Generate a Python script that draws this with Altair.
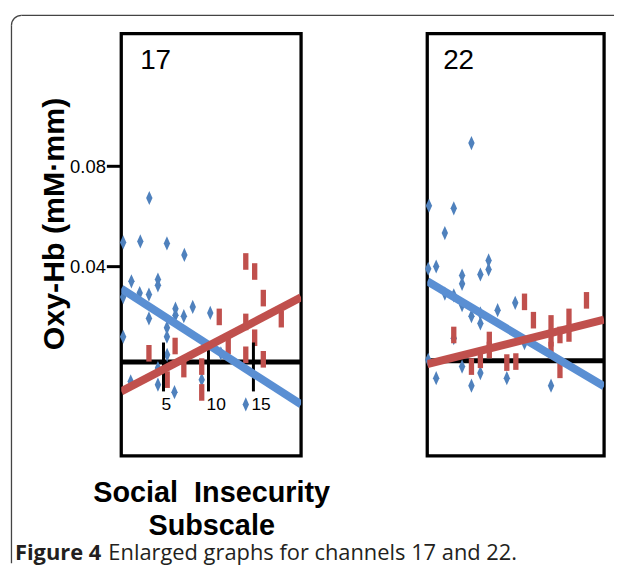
import altair as alt
import pandas as pd

# ---------------- data ----------------
channels = ["17", "22"]

ch17_blue_x = [3.42, 0.51, 2.42, 5.38, 7.32, 1.43, 4.38, 4.38, 0.51, 2.35, 3.38, 6.33, 6.33, 8.25,
               7.26, 3.38, 5.38, 5.38, 10.2, 0.51, 11.38, 4.38, 1.35, 4.38, 6.22, 9.25, 14.15, 5.4]
ch17_blue_y = [0.0673, 0.0496, 0.0500, 0.0492, 0.0446, 0.0341, 0.0348, 0.0325, 0.0278, 0.0294,
               0.0288, 0.0232, 0.0206, 0.0239, 0.0202, 0.0193, 0.0156, 0.0120, 0.0215, 0.0120,
               0.0054, -0.0005, -0.0058, -0.0071, -0.0101, -0.0051, -0.0150, 0.0048]
ch17_red_x = [14.15, 15.14, 16.1, 18.1, 11.2, 14.15, 15.14, 12.2, 14.15, 16.1, 6.29, 3.38,
              7.26, 9.25, 9.25, 5.41]
ch17_red_y = [0.0420, 0.0380, 0.0274, 0.0190, 0.0199, 0.0179, 0.0116, 0.0083, 0.0048, 0.0030,
              0.0083, 0.0054, -0.0009, 0.0001, -0.0102, -0.0051]

ch22_blue_x = [5.30, 0.49, 3.30, 2.29, 0.41, 1.31, 4.24, 4.24, 6.31, 7.24, 7.24, 2.29, 3.30, 4.24,
               5.30, 6.31, 6.31, 8.26, 10.25, 3.30, 11.30, 4.24, 1.31, 5.30, 6.31, 9.30, 14.30, 0.41]
ch22_blue_y = [0.0892, 0.0642, 0.0632, 0.0533, 0.0391, 0.0400, 0.0364, 0.0331, 0.0368, 0.0424,
               0.0388, 0.0292, 0.0285, 0.0246, 0.0202, 0.0213, 0.0173, 0.0226, 0.0255, 0.0114,
               0.0094, 0.0001, -0.0045, -0.0075, -0.0025, -0.0045, -0.0075, 0.0028]
ch22_red_x = [11.30, 12.31, 18.31, 14.30, 14.30, 14.30, 16.33, 16.33, 15.31, 3.30, 7.32, 7.32,
              5.30, 6.31, 9.30, 10.32, 15.31]
ch22_red_y = [0.0259, 0.0186, 0.0265, 0.0173, 0.0114, 0.0067, 0.0199, 0.0133, 0.0127, 0.0127,
              0.0107, 0.0067, 0.0001, 0.0028, 0.0017, 0.0021, -0.0012]

fit_x = [0.3, 20.3]
ch17_fit_blue = [0.0312, -0.0150]
ch17_fit_red = [-0.0098, 0.0277]
ch22_fit_blue = [0.0341, -0.0078]
ch22_fit_red = [0.0011, 0.0188]

zero_level = {"17": 0.0019, "22": 0.0024}

x_tick_values = [5, 10, 15]
x_tick_span = [-0.0098, 0.0097]
x_tick_label_y = -0.0152

y_tick_values = [0.04, 0.08]
x_domain = [0.3, 20.3]
y_domain = [-0.0355, 0.1328]

y_title = "Oxy-Hb (mM\u00b7mm)"
x_title = ["Social\u00a0\u00a0Insecurity", "Subscale"]
caption_bold = "Figure 4"
caption_rest = "Enlarged graphs for channels 17 and 22."

# ---------------- styling ----------------
BLUE = "#4F81BD"
BLUE_LINE = "#5A8FD3"
RED = "#C0504D"
DIAMOND = "M0,-1L0.45,0L0,1L-0.45,0Z"
RECT = "M-0.32,-1L0.32,-1L0.32,1L-0.32,1Z"
FRAME = "#444444"
SANS = "Liberation Sans"

xscale = alt.Scale(domain=x_domain, nice=False, zero=False)
yscale = alt.Scale(domain=y_domain, nice=False, zero=False)


def panel(ch, bx, by, rx, ry, fb, fr, width, first):
    if first:
        xaxis = alt.Axis(labels=False, ticks=False, domain=False, grid=False, title=x_title,
                         titleFont=SANS, titleFontSize=29,
                         titleFontWeight="bold", titleColor="black", titleBaseline="alphabetic",
                         titleY=46, titleLineHeight=33)
        yaxis = alt.Axis(values=y_tick_values, format=".2f", title=y_title,
                         titleFont=SANS, titleFontSize=30.5,
                         titleFontWeight="bold", titleColor="black", titleAngle=270,
                         titleAlign="center", titleBaseline="alphabetic", titleX=-58, titleY=191,
                         labelFont=SANS, labelFontSize=18.5, labelColor="black",
                         labelPadding=1, tickSize=15, tickWidth=3, tickColor="black",
                         domain=False, grid=False)
    else:
        xaxis = None
        yaxis = None

    X = lambda f: alt.X(f, scale=xscale, axis=xaxis)
    Y = lambda f: alt.Y(f, scale=yscale, axis=yaxis)

    blue = pd.DataFrame({"x": bx, "y": by})
    red = pd.DataFrame({"x": rx, "y": ry})
    fits = pd.DataFrame({"x": fit_x + fit_x, "y": fb + fr,
                         "s": ["blue", "blue", "red", "red"]})

    zero = alt.Chart(pd.DataFrame({"y": [zero_level[ch]]})).mark_rule(
        color="black", strokeWidth=5).encode(y=Y("y:Q"))
    pts_b = alt.Chart(blue).mark_point(shape=DIAMOND, filled=True, size=204, color=BLUE,
                                       opacity=1, strokeWidth=0).encode(x=X("x:Q"), y=Y("y:Q"))
    pts_r = alt.Chart(red).mark_point(shape=RECT, filled=True, size=279, color=RED,
                                      opacity=1, strokeWidth=0).encode(x=X("x:Q"), y=Y("y:Q"))
    line_b = alt.Chart(fits[fits.s == "blue"]).mark_line(
        color=BLUE_LINE, strokeWidth=8, clip=True).encode(x=X("x:Q"), y=Y("y:Q"))
    line_r = alt.Chart(fits[fits.s == "red"]).mark_line(
        color=RED, strokeWidth=8, clip=True).encode(x=X("x:Q"), y=Y("y:Q"))
    label = alt.Chart(pd.DataFrame({"t": [ch]})).mark_text(
        font=SANS, fontSize=28, align="left", baseline="alphabetic",
        color="black").encode(x=alt.value(19 if first else 16), y=alt.value(36),
                              text="t:N")

    layers = [zero, pts_b, pts_r]
    if first:
        tdf = pd.DataFrame({"x": x_tick_values, "lo": x_tick_span[0], "hi": x_tick_span[1],
                            "ly": x_tick_label_y, "t": [str(v) for v in x_tick_values]})
        ticks = alt.Chart(tdf).mark_rule(color="black", strokeWidth=3).encode(
            x=X("x:Q"), y=Y("lo:Q"), y2="hi:Q")
        tlabels = alt.Chart(tdf).mark_text(
            font=SANS, fontSize=17.5, align="left", baseline="middle", dx=-2,
            color="black").encode(x=X("x:Q"), y=Y("ly:Q"), text="t:N")
        layers += [ticks, tlabels]
    layers += [line_b, line_r, label]

    if first:
        deco = pd.DataFrame({"a": [0]})
        top_rule = alt.Chart(deco).mark_rule(color=FRAME, strokeWidth=1.3).encode(
            x=alt.value(-100.5), x2=alt.value(496), y=alt.value(-18.4))
        left_rule = alt.Chart(deco).mark_rule(color=FRAME, strokeWidth=1.3).encode(
            x=alt.value(-110.5), y=alt.value(-8.4), y2=alt.value(533))
        corner = alt.Chart(deco).mark_arc(theta=4.7124, theta2=6.2832, radius=10.65,
                                          radius2=9.35, color=FRAME).encode(
            x=alt.value(-100.5), y=alt.value(-8.4))
        cap1 = alt.Chart(pd.DataFrame({"t": [caption_bold]})).mark_text(
            font="Open Sans", fontSize=22, fontWeight="bold", align="left",
            baseline="alphabetic", color="#231F20").encode(
            x=alt.value(-107), y=alt.value(529.5), text="t:N")
        cap2 = alt.Chart(pd.DataFrame({"t": [caption_rest]})).mark_text(
            font="Open Sans", fontSize=22, align="left", baseline="alphabetic",
            color="#231F20").encode(x=alt.value(-13), y=alt.value(529.5), text="t:N")
        layers += [top_rule, left_rule, corner, cap1, cap2]

    return alt.layer(*layers).properties(width=width, height=425)


p1 = panel("17", ch17_blue_x, ch17_blue_y, ch17_red_x, ch17_red_y,
           ch17_fit_blue, ch17_fit_red, 181, True)
p2 = panel("22", ch22_blue_x, ch22_blue_y, ch22_red_x, ch22_red_y,
           ch22_fit_blue, ch22_fit_red, 178, False)

chart = alt.hconcat(p1, p2, spacing=127, bounds="flush").configure_view(
    stroke="black", strokeWidth=3.3).properties(
    padding={"left": 1, "top": 3, "right": 0, "bottom": 0})

chart.save("out.html", embed_options={"renderer": "svg", "actions": False})
